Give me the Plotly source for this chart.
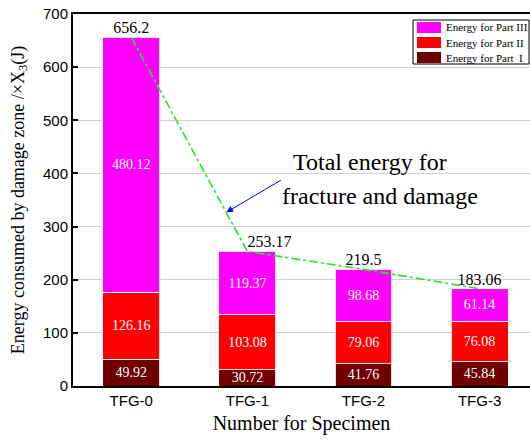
import plotly.graph_objects as go

# Energy absorbed by each damage-zone part, per specimen (J)
specimens = ["TFG-0", "TFG-1", "TFG-2", "TFG-3"]
part_1 = [49.92, 30.72, 41.76, 45.84]
part_2 = [126.16, 103.08, 79.06, 76.08]
part_3 = [480.12, 119.37, 98.68, 61.14]
totals = [656.2, 253.17, 219.5, 183.06]

y_ticks = [0, 100, 200, 300, 400, 500, 600, 700]

SERIF = "Liberation Serif, Times New Roman, serif"
SANS = "Liberation Sans, Arial, sans-serif"

W, H = 530, 443
ML, MR, MT, MB = 73, 0, 14, 57
PW, PH = W - ML - MR, H - MT - MB


def px(x):
    return (x - ML) / PW


def py(y):
    return (H - MB - y) / PH


fig = go.Figure()

series = [
    ("Energy for Part  I", part_1, "#6e0000"),
    ("Energy for Part II", part_2, "#ff0000"),
    ("Energy for Part III", part_3, "#ff00ff"),
]
for name, vals, col in series:
    fig.add_trace(go.Bar(
        x=specimens, y=vals, name=name, width=0.49, showlegend=False,
        marker=dict(color=col, line=dict(color="rgba(255,255,255,0.85)", width=1)),
        text=[f"{v:g}" for v in vals], textposition="inside",
        insidetextanchor="middle", constraintext="none",
        textfont=dict(family=SERIF, size=14, color="white"),
    ))

# Total energy: dash-dot trend through the stack tops
fig.add_trace(go.Scatter(
    x=specimens, y=totals, mode="lines+text", showlegend=False,
    line=dict(color="#1ee81e", width=1.6, dash="dashdot"),
    text=[f"{v:g}" for v in totals],
    textposition=["top center", "top right", "top center", "top center"],
    textfont=dict(family=SERIF, size=16, color="black"),
    cliponaxis=False,
))

# Boxed key in the upper-right corner (Part III on top)
shapes = [dict(type="rect", xref="paper", yref="paper",
               x0=px(413), x1=px(529), y0=py(64), y1=py(20),
               line=dict(color="black", width=1), fillcolor="white", layer="above")]
key_ann = []
for i, (name, _, col) in enumerate(reversed(series)):
    top = 22 + i * 15
    shapes.append(dict(type="rect", xref="paper", yref="paper",
                       x0=px(417), x1=px(441), y0=py(top + 11), y1=py(top),
                       line=dict(width=0), fillcolor=col, layer="above"))
    key_ann.append(dict(x=px(444), y=py(top + 5.5), xref="paper", yref="paper",
                        xanchor="left", yanchor="middle", text=name, showarrow=False,
                        font=dict(family=SERIF, size=11, color="black")))

fig.update_layout(
    width=W, height=H,
    margin=dict(l=ML, r=MR, t=MT, b=MB),
    barmode="stack",
    plot_bgcolor="white", paper_bgcolor="white",
    showlegend=False,
    xaxis=dict(
        type="category", range=[-0.502, 3.434],
        showline=True, linecolor="black", linewidth=2, mirror=True,
        ticks="", showgrid=False,
        tickfont=dict(family=SANS, size=15, color="black"),
        title=dict(text="Number for Specimen", standoff=8,
                   font=dict(family=SERIF, size=20, color="black")),
    ),
    yaxis=dict(
        range=[0, 700], tickvals=y_ticks,
        showline=True, linecolor="black", linewidth=2,
        ticks="inside", ticklen=5, tickwidth=1.5, tickcolor="black",
        showgrid=True, gridcolor="#d0d0d0", gridwidth=1,
        zeroline=False,
        tickfont=dict(family=SANS, size=15, color="black"),
        title=dict(text="Energy consumed by damage zone /×X<sub>3</sub>(J)", standoff=14,
                   font=dict(family=SERIF, size=18, color="black")),
    ),
    shapes=shapes,
    annotations=[
        dict(x=0.82, y=327, xref="x", yref="y", text="", showarrow=True,
             ax=56, ay=-33, arrowcolor="blue", arrowwidth=1, arrowhead=2,
             arrowsize=1.3, standoff=0),
        dict(x=2.06, y=421, xref="x", yref="y", text="Total energy for",
             showarrow=False, font=dict(family=SERIF, size=24, color="black")),
        dict(x=2.145, y=357, xref="x", yref="y", text="fracture and damage",
             showarrow=False, font=dict(family=SERIF, size=24, color="black")),
    ] + key_ann,
)

fig.write_html("out.html")
